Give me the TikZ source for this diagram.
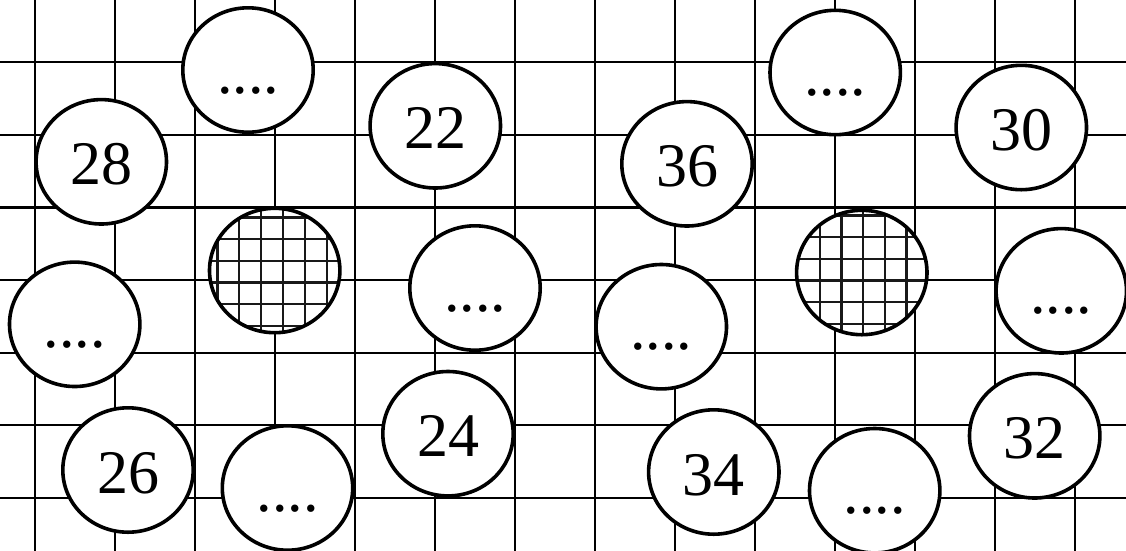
\documentclass[tikz,border=0pt]{standalone}
\usepackage{fontspec}
\setmainfont{Liberation Serif}
\usetikzlibrary{shapes.geometric}
\tikzset{
  gridline/.style={line width=2.2pt, black},
  disc/.style={ellipse, draw=black, line width=3.6pt, fill=white, minimum width=130.4pt, minimum height=124.4pt, inner sep=0pt, text height=46pt, text depth=0pt, font=\fontsize{62}{62}\selectfont},
  hatchline/.style={line width=2.4pt, black!90},
}
\begin{document}
\begin{tikzpicture}[x=1pt, y=-1pt]
\useasboundingbox (0,0) rectangle (1126,550);
% background grid
\foreach \k in {0,...,13} {
  \draw[gridline] ({34.7+80*\k},-5) -- ({34.7+80*\k},555);
}
\foreach \k in {0,...,6} {
  \draw[gridline] (-5,{62.3+72.6*\k}) -- (1131,{62.3+72.6*\k});
}
% discs
\node[disc] (a) at (248,70) {....};
\node[disc] (b) at (101.3,161.8) {28};
\node[disc, path picture={
  \foreach \d in {-57.4,-35.5,-13.6,8.3,30.2,52.1}
    \draw[hatchline] ([xshift=\d pt]path picture bounding box.north) -- ([xshift=\d pt]path picture bounding box.south);
  \foreach \d in {-53.2,-31.5,-9.8,11.9,33.6,55.3}
    \draw[hatchline] ([yshift=-\d pt]path picture bounding box.west) -- ([yshift=-\d pt]path picture bounding box.east);
}] (c) at (274.7,270.5) {};
\node[disc] (d) at (74.7,324.3) {....};
\node[disc] (e) at (128,470) {26};
\node[disc] (f) at (287.5,488) {....};
\node[disc] (g) at (435.3,125.8) {22};
\node[disc] (h) at (475,288) {....};
\node[disc] (i) at (448,433.7) {24};
\node[disc] (j) at (687,163.8) {36};
\node[disc] (k) at (661.3,326.7) {....};
\node[disc] (l) at (713.8,472) {34};
\node[disc] (m) at (835.2,72.5) {....};
\node[disc, path picture={
  \foreach \d in {-42.1,-20.4,1.3,23.0,44.7}
    \draw[hatchline] ([xshift=\d pt]path picture bounding box.north) -- ([xshift=\d pt]path picture bounding box.south);
  \foreach \d in {-57.2,-35.5,-13.8,7.9,29.6,51.3}
    \draw[hatchline] ([yshift=-\d pt]path picture bounding box.west) -- ([yshift=-\d pt]path picture bounding box.east);
}] (n) at (861.8,272.5) {};
\node[disc] (o) at (874.7,490.7) {....};
\node[disc] (p) at (1021.3,127.5) {30};
\node[disc] (q) at (1061.3,290.8) {....};
\node[disc] (r) at (1034.7,435.8) {32};
\end{tikzpicture}
\end{document}
